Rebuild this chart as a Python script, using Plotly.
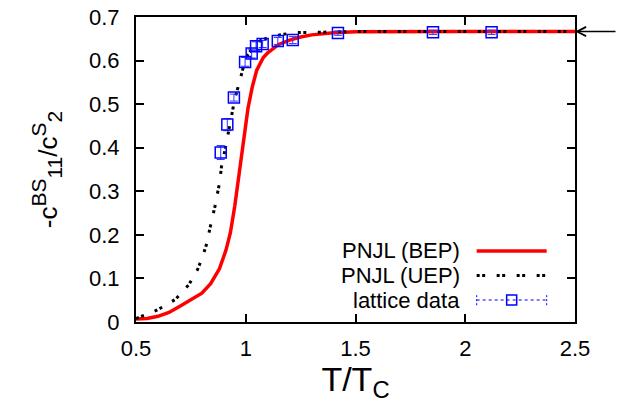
import plotly.graph_objects as go

# PNJL, BEP (red solid)
t_bep = [0.5, 0.55, 0.6, 0.65, 0.7, 0.75, 0.8, 0.84, 0.88, 0.91, 0.93, 0.95, 0.97, 0.99,
         1.01, 1.03, 1.05, 1.08, 1.1, 1.15, 1.2, 1.25, 1.3, 1.4, 1.5, 2.0, 2.5]
r_bep = [0.007, 0.008, 0.013, 0.022, 0.036, 0.050, 0.066, 0.088, 0.122, 0.165, 0.205, 0.266,
         0.345, 0.415, 0.49, 0.54, 0.578, 0.607, 0.618, 0.637, 0.647, 0.654, 0.659, 0.664,
         0.666, 0.6667, 0.6667]

# PNJL, UEP (black dotted)
t_uep = [0.5, 0.53, 0.59, 0.62, 0.68, 0.74, 0.78, 0.8, 0.82, 0.84, 0.86, 0.88, 0.89, 0.91,
         0.93, 0.95, 0.97, 0.99, 1.01, 1.04, 1.07, 1.13, 1.22, 1.31, 1.5, 2.0, 2.5]
r_uep = [0.008, 0.014, 0.026, 0.034, 0.052, 0.085, 0.12, 0.145, 0.176, 0.222, 0.266, 0.318,
         0.358, 0.406, 0.462, 0.512, 0.548, 0.587, 0.614, 0.635, 0.647, 0.657, 0.664, 0.665,
         0.6667, 0.6667, 0.6667]

# lattice data
t_lat = [0.886, 0.916, 0.946, 0.997, 1.027, 1.047, 1.077, 1.146, 1.214, 1.42, 1.853, 2.12]
r_lat = [0.389, 0.453, 0.515, 0.597, 0.616, 0.633, 0.638, 0.645, 0.647, 0.663, 0.665, 0.665]
e_lat = [0.016, 0.014, 0.008, 0.01, 0.01, 0.01, 0.008, 0.008, 0.008, 0.005, 0.005, 0.005]

legend_names = ['PNJL (BEP)', 'PNJL (UEP)', 'lattice data']

FONT = 'Liberation Sans, Arial, sans-serif'
UEP_DASH = '3px,2.5px,3px,11.5px'

fig = go.Figure()

fig.add_trace(go.Scatter(x=t_bep, y=r_bep, mode='lines',
                         line=dict(color='#ff0000', width=3.5), showlegend=False))
fig.add_trace(go.Scatter(x=t_uep, y=r_uep, mode='lines',
                         line=dict(color='black', width=3, dash=UEP_DASH), showlegend=False))
fig.add_trace(go.Scatter(x=t_lat, y=r_lat, mode='markers',
                         marker=dict(symbol='square-open', size=11, color='#0000ff',
                                     line=dict(width=1.5, color='#0000ff')),
                         error_y=dict(type='data', array=e_lat, color='#3333ff',
                                      thickness=1, width=4),
                         showlegend=False))

axis_common = dict(showline=True, linecolor='black', linewidth=2, mirror='ticks',
                   ticks='inside', ticklen=8, tickwidth=1.5, tickcolor='black',
                   showgrid=False, zeroline=False, automargin=False,
                   tickfont=dict(family=FONT, size=22, color='black'))

# gnuplot-like super/subscripts (a bit bigger than plotly's default 70 %)
def scr(tag, s):
    return '<%s><span style="font-size:21px">%s</span></%s>' % (tag, s, tag)

ytitle = '-c' + scr('sup', 'BS') + scr('sub', '11') + '/c' + scr('sup', 'S') + scr('sub', '2')

fig.update_xaxes(range=[0.5, 2.5], dtick=0.5, ticklabelstandoff=6,
                 title=dict(text='T/T<sub>C</sub>', font=dict(family=FONT, size=34, color='black'),
                            standoff=3),
                 **axis_common)
fig.update_yaxes(range=[0, 0.7], dtick=0.1, ticklabelstandoff=10,
                 title=dict(text=ytitle, font=dict(family=FONT, size=26, color='black'),
                            standoff=24),
                 **axis_common)

# hand-made legend (gnuplot style: text right, sample left)
rows_y = [0.2328, 0.1525, 0.0721]
x_txt = 0.7426
x0, x1 = 0.776, 0.9355
for name, yy in zip(legend_names, rows_y):
    fig.add_annotation(xref='paper', yref='paper', x=x_txt, y=yy, text=name,
                       showarrow=False, xanchor='right', yanchor='middle',
                       font=dict(family=FONT, size=22, color='black'))
fig.add_shape(type='line', xref='paper', yref='paper', x0=x0, x1=x1,
              y0=rows_y[0], y1=rows_y[0], line=dict(color='#ff0000', width=3.5))
fig.add_shape(type='line', xref='paper', yref='paper', x0=x0, x1=x1,
              y0=rows_y[1], y1=rows_y[1], line=dict(color='black', width=3, dash=UEP_DASH))
fig.add_shape(type='line', xref='paper', yref='paper', x0=x0, x1=x1,
              y0=rows_y[2], y1=rows_y[2], line=dict(color='#0000ff', width=1, dash='3px,3px'))
for xe in (x0, x1):
    fig.add_shape(type='line', xref='paper', yref='paper', x0=xe, x1=xe,
                  y0=rows_y[2] - 0.017, y1=rows_y[2] + 0.017,
                  line=dict(color='#0000ff', width=1, dash='2px,2px'))
xm = (x0 + x1) / 2
fig.add_shape(type='rect', xref='paper', yref='paper', x0=xm - 0.0114, x1=xm + 0.0114,
              y0=rows_y[2] - 0.0164, y1=rows_y[2] + 0.0164,
              line=dict(color='#0000ff', width=1.5), fillcolor='rgba(0,0,0,0)')

# arrow marking the limit 2/3
fig.add_annotation(x=2.5, y=2 / 3, ax=42, ay=0, text='', showarrow=True,
                   arrowhead=5, arrowsize=1.2, arrowwidth=1.5, arrowcolor='black')

fig.update_layout(width=617, height=403, autosize=False,
                  plot_bgcolor='white', paper_bgcolor='white',
                  margin=dict(l=136, r=42, t=17, b=81))

# drop the default body margin so the figure sits at the page corner
fig.write_html('out.html', config={'displayModeBar': False},
               post_script="document.body.style.margin='0';")
